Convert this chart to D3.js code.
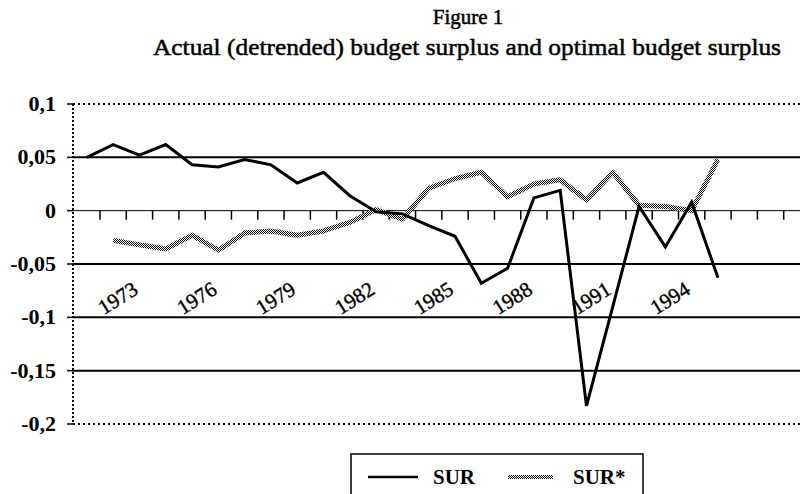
<!DOCTYPE html>
<html>
<head>
<meta charset="utf-8">
<script src="https://cdn.jsdelivr.net/npm/d3@7"></script>
<style>
  body { margin: 0; background: #fff; }
  text { font-family: "Liberation Serif", "Times New Roman", serif; }
</style>
</head>
<body>
<script>
var w = 800;
var h = 494;

// category slots on the axis (the plot runs past the right edge)
var years = ["1971","1972","1973","1974","1975","1976","1977","1978","1979","1980",
  "1981","1982","1983","1984","1985","1986","1987","1988","1989","1990",
  "1991","1992","1993","1994","1995","1996","1997","1998"];
var labelYears = ["1973","1976","1979","1982","1985","1988","1991","1994"];
var yTicks = [0.1, 0.05, 0, -0.05, -0.1, -0.15, -0.2];
var yTickLabels = ["0,1","0,05","0","-0,05","-0,1","-0,15","-0,2"];

// series values, 1971..1995
var dataYears = ["1971","1972","1973","1974","1975","1976","1977","1978","1979","1980",
  "1981","1982","1983","1984","1985","1986","1987","1988","1989","1990",
  "1991","1992","1993","1994","1995"];
var sur = [0.050, 0.062, 0.052, 0.062, 0.043, 0.041, 0.048, 0.043, 0.026, 0.036,
  0.014, -0.001, -0.003, -0.014, -0.024, -0.068, -0.054, 0.012, 0.019, -0.183,
  -0.09, 0.004, -0.034, 0.008, -0.063];
var surStar = [null, -0.028, -0.032, -0.036, -0.023, -0.037, -0.021, -0.019, -0.023, -0.019,
  -0.011, 0.001, -0.008, 0.021, 0.030, 0.036, 0.013, 0.025, 0.029, 0.010,
  0.036, 0.005, 0.004, 0.000, 0.048];

var svg = d3.select("body").append("svg")
  .attr("width", w)
  .attr("height", h);

// checkered grey texture for SUR*
var pat = svg.append("defs").append("pattern")
  .attr("id", "checker")
  .attr("patternUnits", "userSpaceOnUse")
  .attr("width", 2).attr("height", 2);
pat.append("rect").attr("width", 2).attr("height", 2).attr("fill", "#fff");
pat.append("rect").attr("width", 1).attr("height", 1).attr("fill", "#000");
pat.append("rect").attr("x", 1).attr("y", 1).attr("width", 1).attr("height", 1).attr("fill", "#000");

var x = d3.scaleBand().domain(years).range([73.7, 810]).paddingInner(0).paddingOuter(0);
var y = d3.scaleLinear().domain([-0.2, 0.1]).range([424, 104]);
var cx = function (yr) { return x(yr) + x.bandwidth() / 2; };

// titles (scanned look: regular face with a thin outline)
svg.append("text")
  .attr("x", 468).attr("y", 24)
  .attr("text-anchor", "middle")
  .attr("font-size", 21)
  .attr("stroke", "#000").attr("stroke-width", 0.5)
  .text("Figure 1");
svg.append("text")
  .attr("x", 467).attr("y", 55)
  .attr("text-anchor", "middle")
  .attr("font-size", 24)
  .attr("stroke", "#000").attr("stroke-width", 0.5)
  .attr("textLength", 628).attr("lengthAdjust", "spacingAndGlyphs")
  .text("Actual (detrended) budget surplus and optimal budget surplus");

// horizontal grid lines
yTicks.forEach(function (v) {
  var line = svg.append("line")
    .attr("x1", 73).attr("x2", w)
    .attr("y1", y(v)).attr("y2", y(v))
    .attr("stroke", "#000");
  if (v == 0.1 || v == -0.2) {
    line.attr("stroke-width", 2).attr("stroke-dasharray", "2,3");
  } else if (v == 0) {
    line.attr("stroke-width", 1);
  } else {
    line.attr("stroke-width", 2);
  }
});

// left axis (dotted) with ticks and labels
svg.append("line")
  .attr("x1", 73).attr("x2", 73)
  .attr("y1", y(0.1)).attr("y2", y(-0.2))
  .attr("stroke", "#000").attr("stroke-width", 2).attr("stroke-dasharray", "2,2");
svg.selectAll(".ytick")
  .data(yTicks)
  .enter()
  .append("line")
  .attr("x1", 67).attr("x2", 73)
  .attr("y1", function (d) { return y(d); })
  .attr("y2", function (d) { return y(d); })
  .attr("stroke", "#000").attr("stroke-width", 1.5);
svg.selectAll(".ylab")
  .data(yTicks)
  .enter()
  .append("text")
  .attr("x", 56)
  .attr("y", function (d) { return y(d) + 7; })
  .attr("text-anchor", "end")
  .attr("font-size", 22).attr("font-weight", "bold")
  .text(function (d, i) { return yTickLabels[i]; });

// category ticks on the zero line
svg.selectAll(".xtick")
  .data(years.slice(1))
  .enter()
  .append("line")
  .attr("x1", function (d) { return x(d); })
  .attr("x2", function (d) { return x(d); })
  .attr("y1", y(0)).attr("y2", y(0) + 9)
  .attr("stroke", "#000").attr("stroke-width", 1.5);

// rotated year labels
svg.selectAll(".xlab")
  .data(labelYears)
  .enter()
  .append("text")
  .attr("text-anchor", "end")
  .attr("font-size", 21)
  .attr("stroke", "#000").attr("stroke-width", 0.4)
  .attr("transform", function (d) {
    return "translate(" + cx(d) + "," + 293 + ") rotate(-32)";
  })
  .text(function (d) { return d; });

// lines
var pts = function (vals) {
  return dataYears.map(function (yr, i) { return [yr, vals[i]]; });
};
var line = d3.line()
  .defined(function (d) { return d[1] !== null; })
  .x(function (d) { return cx(d[0]); })
  .y(function (d) { return y(d[1]); });

svg.append("path")
  .datum(pts(surStar))
  .attr("d", line)
  .attr("fill", "none")
  .attr("stroke", "url(#checker)")
  .attr("stroke-width", 5)
  .attr("stroke-linejoin", "round");

svg.append("path")
  .datum(pts(sur))
  .attr("d", line)
  .attr("fill", "none")
  .attr("stroke", "#000")
  .attr("stroke-width", 3)
  .attr("stroke-linejoin", "miter");

// legend
var lg = svg.append("g");
lg.append("rect")
  .attr("x", 351).attr("y", 454)
  .attr("width", 292).attr("height", 50)
  .attr("fill", "#fff").attr("stroke", "#000").attr("stroke-width", 1.5);
lg.append("line")
  .attr("x1", 368).attr("x2", 418).attr("y1", 477).attr("y2", 477)
  .attr("stroke", "#000").attr("stroke-width", 2.5);
lg.append("text")
  .attr("x", 433).attr("y", 484)
  .attr("font-size", 21).attr("font-weight", "bold")
  .text("SUR");
lg.append("line")
  .attr("x1", 508).attr("x2", 553).attr("y1", 477).attr("y2", 477)
  .attr("stroke", "url(#checker)").attr("stroke-width", 4);
lg.append("text")
  .attr("x", 573).attr("y", 484)
  .attr("font-size", 21).attr("font-weight", "bold")
  .text("SUR*");
</script>
</body>
</html>
